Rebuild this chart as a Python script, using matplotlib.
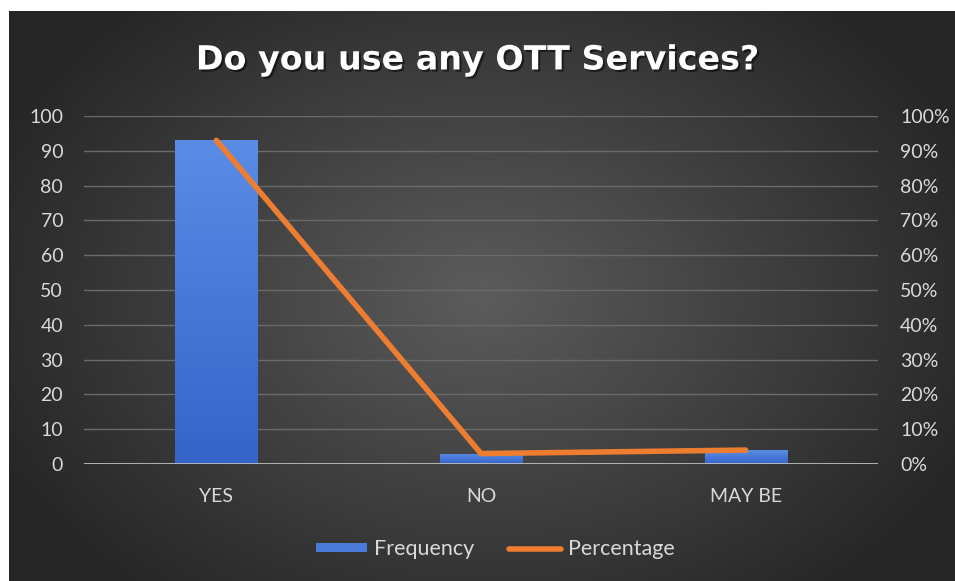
import numpy as np
import matplotlib
matplotlib.use("Agg")
import matplotlib.pyplot as plt
from matplotlib.ticker import PercentFormatter, MultipleLocator
from matplotlib.lines import Line2D
from matplotlib.patches import Patch
from matplotlib.colors import LinearSegmentedColormap
import matplotlib.patheffects as pe

categories = ["YES", "NO", "MAY BE"]
frequency = [93, 3, 4]
percentage = [0.93, 0.03, 0.04]
title = "Do you use any OTT Services?"

plt.rcParams['font.family'] = ['Lato', 'DejaVu Sans']

W, H = 955, 581
fig = plt.figure(figsize=(W / 100, H / 100), dpi=100, facecolor="white")

# background panel with radial gradient
bg = fig.add_axes([9 / W, 0, 1 - 9 / W, 1 - 11 / H], zorder=-10)
bg.set_axis_off()
yy, xx = np.mgrid[0:1:300j, 0:1:500j]
r = np.sqrt(((xx - 0.5) / 0.75) ** 2 + ((yy - 0.5) / 0.9) ** 2)
r = np.clip(r / 0.75, 0, 1)
c_in = np.array([0.36, 0.36, 0.36])
c_out = np.array([0.15, 0.15, 0.15])
img = c_in[None, None, :] * (1 - r[..., None]) + c_out[None, None, :] * r[..., None]
bg.imshow(img, aspect="auto", extent=[0, 1, 0, 1], origin="lower")
bg.set_xlim(0, 1)
bg.set_ylim(0, 1)

ax = fig.add_axes([84 / W, 1 - 464 / H, (878 - 84) / W, (464 - 116) / H])
ax.patch.set_alpha(0)
x = np.arange(len(categories))
bars = ax.bar(x, frequency, width=0.31, color="#4a7bd8", zorder=3)
grad = np.linspace(0, 1, 256)[:, None]
cmap = LinearSegmentedColormap.from_list("b", ["#3564c8", "#5a8ce6"])
for b in bars:
    bx, by = b.get_x(), b.get_y()
    bw, bh = b.get_width(), b.get_height()
    im = ax.imshow(grad, cmap=cmap, aspect="auto", origin="lower",
                   extent=[bx, bx + bw, by, by + bh], zorder=3)
    im.set_clip_path(b)

ax.set_xlim(-0.5, 2.5)
ax.set_ylim(0, 100)
ax.yaxis.set_major_locator(MultipleLocator(10))
ax.grid(axis="y", color="#6a6a6a", linewidth=1.0, zorder=0)
for s in ax.spines.values():
    s.set_visible(False)
ax.axhline(0, color="#bdbdbd", linewidth=2, zorder=4)
ax.set_xticks(x)
ax.set_xticklabels(categories)
ax.tick_params(axis="both", length=0, colors="#d9d9d9", labelsize=14)
ax.tick_params(axis="x", pad=17)
ax.tick_params(axis="y", pad=15)

ax2 = ax.twinx()
ax2.set_ylim(0, 1)
ax2.yaxis.set_major_locator(MultipleLocator(0.1))
ax2.yaxis.set_major_formatter(PercentFormatter(1.0, decimals=0))
for s in ax2.spines.values():
    s.set_visible(False)
ax2.tick_params(axis="y", length=0, colors="#d9d9d9", labelsize=14, pad=16)
ax2.plot(x, percentage, color="#ed7d31", linewidth=4, solid_capstyle="round",
         solid_joinstyle="round", zorder=5)

fig.text(0.5, 1 - 60 / H, title, ha="center", va="center", color="white",
         fontsize=24, fontweight="bold", family=["DejaVu Sans"],
         path_effects=[pe.withSimplePatchShadow(offset=(1.5, -1.5), shadow_rgbFace="black", alpha=0.5)])

handles = [Patch(facecolor="#4a7bd8", edgecolor="none"),
           Line2D([0], [0], color="#ed7d31", linewidth=4, solid_capstyle="round")]
leg = fig.legend(handles, ["Frequency", "Percentage"], loc="center",
                 bbox_to_anchor=(495 / W, 1 - 549 / H), ncol=2, frameon=False,
                 fontsize=15.5, labelcolor="#d9d9d9", handlelength=2.4,
                 handleheight=0.3, handletextpad=0.33, columnspacing=1.6)

fig.savefig("out.png", dpi=100, facecolor="white")
